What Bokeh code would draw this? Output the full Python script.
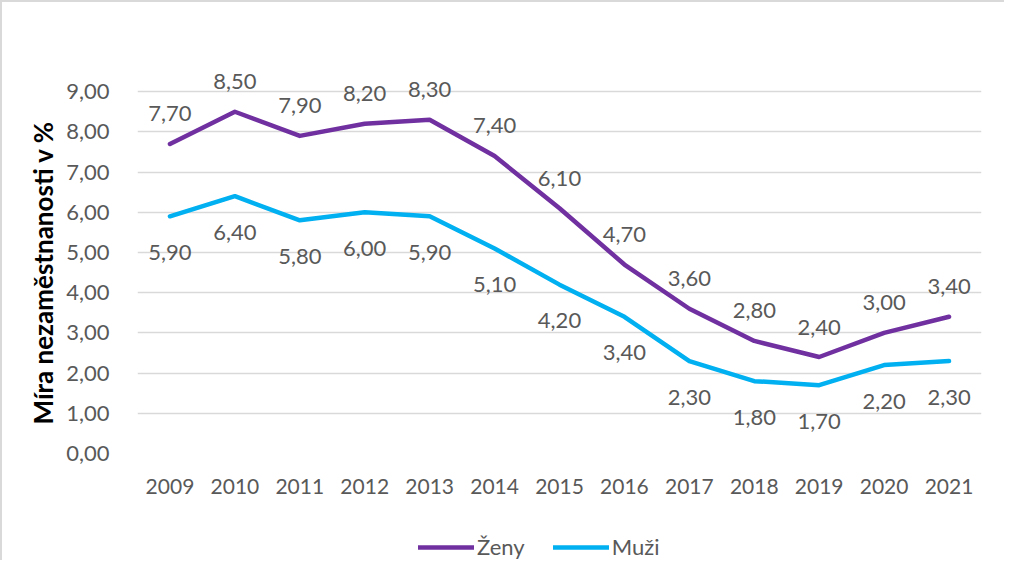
from bokeh.plotting import figure
from bokeh.layouts import column
from bokeh.models import (ColumnDataSource, FactorRange, Range1d, FixedTicker, CustomJSTickFormatter,
                          Legend, LegendItem, Title)
from bokeh.core.properties import value
from bokeh.embed import file_html
from bokeh.resources import INLINE

years = ["2009", "2010", "2011", "2012", "2013", "2014", "2015", "2016", "2017", "2018", "2019", "2020", "2021"]
zeny = [7.7, 8.5, 7.9, 8.2, 8.3, 7.4, 6.1, 4.7, 3.6, 2.8, 2.4, 3.0, 3.4]
muzi = [5.9, 6.4, 5.8, 6.0, 5.9, 5.1, 4.2, 3.4, 2.3, 1.8, 1.7, 2.2, 2.3]
y_ticks = [0, 1, 2, 3, 4, 5, 6, 7, 8, 9]
series_names = ["Ženy", "Muži"]
y_title = "Míra nezaměstnanosti v %"

PURPLE = "#7030A0"
CYAN = "#00B0F0"
GRAY = "#595959"
FONT = "Lato"
BORDER = "2px solid #d9d9d9"

def fmt(v):
    return f"{v:.2f}".replace(".", ",")

src = ColumnDataSource(dict(
    x=years, z=zeny, m=muzi,
    zl=[fmt(v) for v in zeny], ml=[fmt(v) for v in muzi],
))

p = figure(
    width=1004, height=530,
    x_range=FactorRange(*years, range_padding=0.0),
    y_range=Range1d(0, 9.8),
    output_backend="svg", toolbar_location=None,
    min_border_left=135, min_border_right=25, min_border_top=57, min_border_bottom=79,
)
p.styles = {"border-left": BORDER, "border-top": BORDER}
p.outline_line_color = None
p.background_fill_color = "white"
p.border_fill_color = "white"

p.xgrid.grid_line_color = None
p.ygrid.grid_line_color = "#d9d9d9"
p.ygrid.grid_line_width = 1.3

p.yaxis.ticker = FixedTicker(ticks=y_ticks)
p.yaxis.formatter = CustomJSTickFormatter(code="return tick.toFixed(2).replace('.', ',');")
for ax in (p.xaxis[0], p.yaxis[0]):
    ax.axis_line_color = None
    ax.major_tick_line_color = None
    ax.minor_tick_line_color = None
    ax.major_label_text_font = FONT
    ax.major_label_text_color = GRAY
p.xaxis.major_label_text_font_size = "21px"
p.yaxis.major_label_text_font_size = "22px"
p.xaxis.major_label_standoff = 19
p.yaxis.major_label_standoff = 22

ytitle = Title(text=y_title, align="left", offset=29, standoff=10,
               text_font=FONT, text_font_size="26px", text_font_style="bold", text_color="black")
p.add_layout(ytitle, "left")

rz = p.line("x", "z", source=src, line_color=PURPLE, line_width=4.5, line_cap="round", line_join="round")
rm = p.line("x", "m", source=src, line_color=CYAN, line_width=4.5, line_cap="round", line_join="round")

p.text("x", "z", text="zl", source=src, y_offset=-30, text_align="center", text_baseline="middle",
       text_font=value(FONT), text_font_size="22px", text_color=GRAY)
p.text("x", "m", text="ml", source=src, y_offset=36, text_align="center", text_baseline="middle",
       text_font=value(FONT), text_font_size="22px", text_color=GRAY)

# legend strip below the chart (hidden copies of the series give the legend glyphs)
p2 = figure(width=1004, height=30, output_backend="svg", toolbar_location=None,
            x_range=FactorRange(*years, range_padding=0.0), y_range=Range1d(0, 9.8),
            x_axis_location=None, y_axis_location=None,
            min_border_left=0, min_border_right=0, min_border_top=0, min_border_bottom=0)
p2.styles = {"border-left": BORDER}
p2.outline_line_color = None
p2.grid.visible = False
lz = p2.line("x", "z", source=src, line_color=PURPLE, line_width=4.5, line_cap="round", visible=False)
lm = p2.line("x", "m", source=src, line_color=CYAN, line_width=4.5, line_cap="round", visible=False)

legend = Legend(
    items=[LegendItem(label=series_names[0], renderers=[lz]), LegendItem(label=series_names[1], renderers=[lm])],
    orientation="horizontal", location=(281, 0),
    glyph_width=56, glyph_height=20, label_standoff=3, spacing=28, padding=0, margin=0,
    label_text_font=FONT, label_text_font_size="22px", label_text_color=GRAY,
    border_line_color=None, background_fill_alpha=0,
)
p2.add_layout(legend, "center")

layout = column(p, p2, spacing=0)
open("out.html", "w").write(file_html(layout, INLINE))
